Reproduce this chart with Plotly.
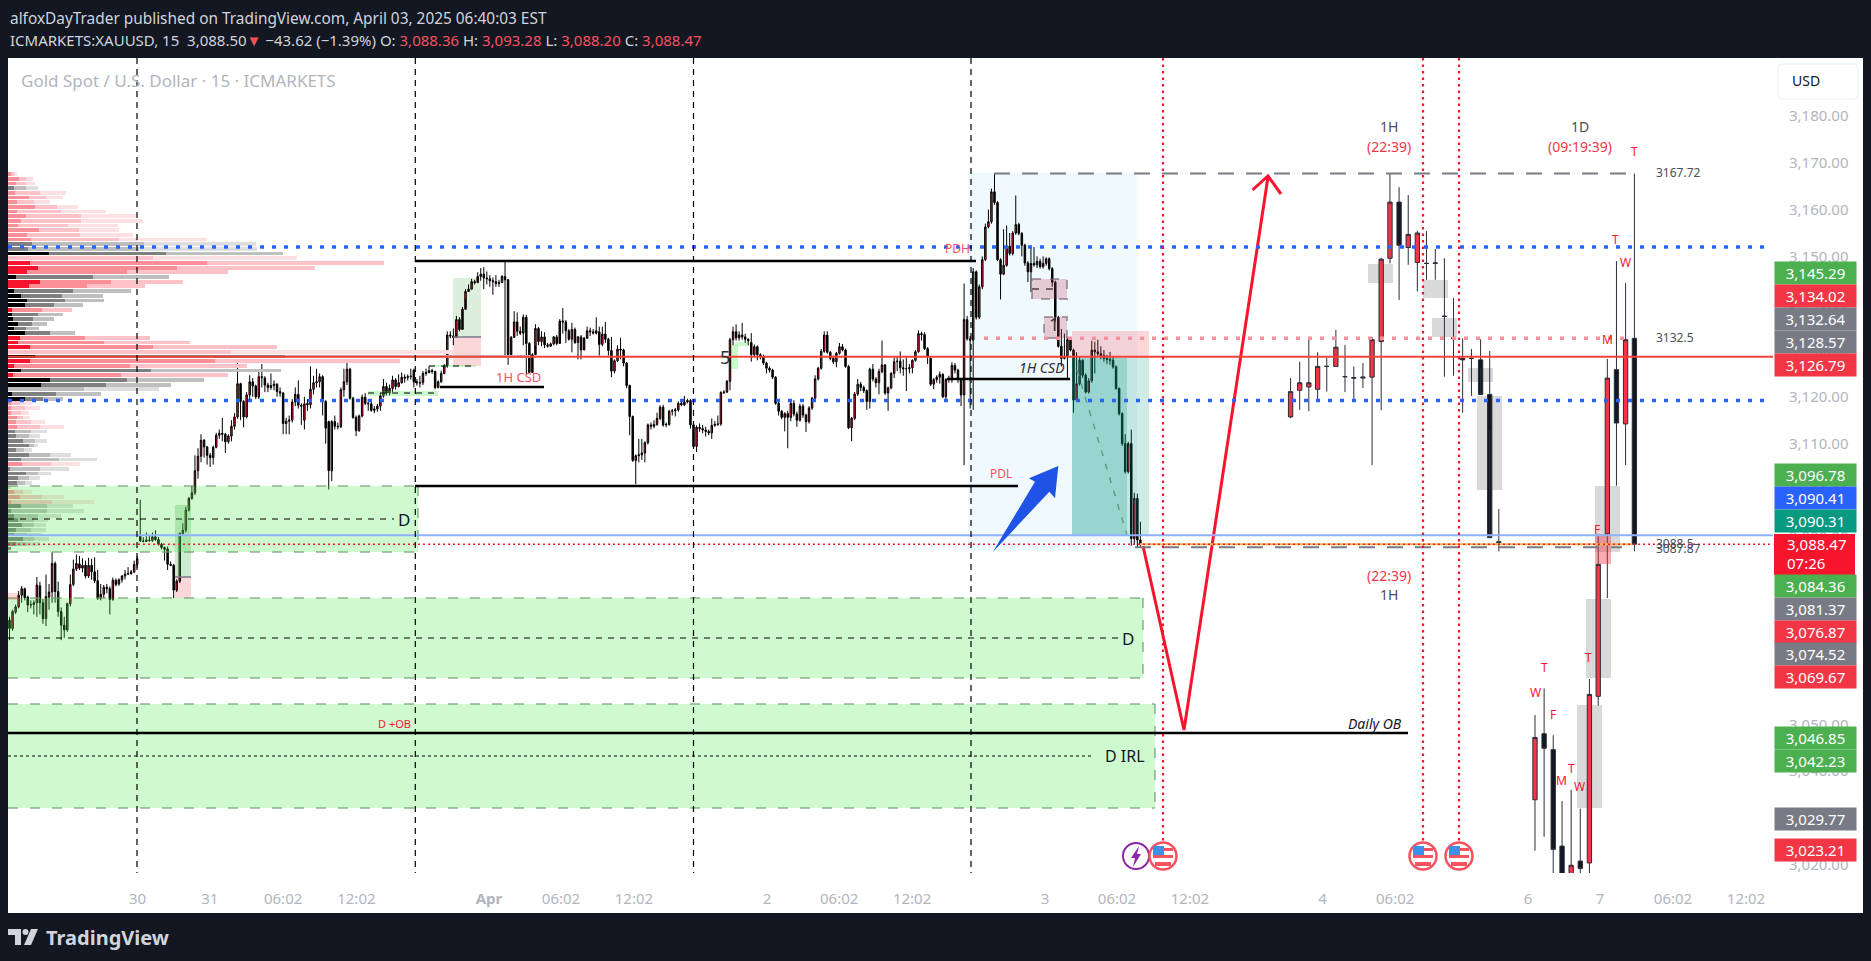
import plotly.graph_objects as go

# ---------- 15-minute candles ----------
opens = [
3072.3,3070.5,3074.0,3075.1,3077.6,3079.0,3077.2,3075.5,3075.6,3076.0,
3079.6,3076.0,3072.6,3077.2,3078.3,3084.4,3078.4,3074.1,3071.2,3070.2,
3075.8,3079.9,3083.2,3084.3,3083.4,3084.0,3081.7,3084.0,3082.6,3080.7,
3076.9,3077.8,3079.3,3079.0,3076.7,3080.8,3080.0,3080.9,3081.7,3082.1,
3082.2,3082.6,3084.2,3090.4,3089.2,3089.1,3089.4,3089.3,3090.1,3089.5,
3088.5,3087.8,3087.5,3084.2,3084.0,3078.7,3080.6,3090.8,3091.5,3095.8,
3098.3,3099.5,3104.2,3107.3,3110.7,3109.3,3107.5,3107.0,3109.2,3111.8,
3112.2,3112.0,3110.4,3111.6,3113.7,3115.7,3122.8,3119.0,3115.7,3120.4,
3123.2,3122.3,3120.0,3124.3,3124.0,3122.5,3122.0,3122.4,3122.7,3121.1,
3120.8,3114.3,3114.8,3115.0,3118.9,3120.5,3118.2,
# segment b
3115.0,3118.6,3118.3,3121.6,3123.0,3123.2,3124.3,3119.0,3114.7,3104.2,
3114.7,3113.7,3113.6,3121.5,3123.2,3125.9,3119.7,3115.6,3112.8,3115.9,
3119.9,3118.6,3118.5,3117.1,3117.4,3118.0,3120.2,3122.2,3120.8,3121.8,
3123.6,3122.2,3123.0,3124.2,3124.1,3124.3,3125.7,3123.2,3123.0,3123.0,
3125.0,3125.2,3125.6,3125.4,3122.0,3123.2,3125.0,3126.6,3133.2,3133.0,
3132.7,3136.5,3134.4,3138.7,3142.5,3143.0,3144.6,3144.4,3145.7,3146.2,
3145.4,3145.2,3144.8,3144.6,3144.2,3144.4,3145.7,3145.0,3129.0,3132.7,
3136.0,3134.0,3133.6,3137.0,3131.4,3125.2,3129.0,3134.6,3131.8,3132.8,
3131.1,3130.8,3131.3,3132.8,3131.4,3136.2,3136.0,3134.1,3132.3,3134.4,
3131.6,3132.8,3130.0,3132.5,3134.1,3133.9,3133.6,
# segment c
3133.9,3131.2,3133.4,3132.3,3129.9,3125.5,3127.7,3130.2,3130.0,3127.2,
3122.4,3115.8,3106.4,3107.4,3107.6,3108.0,3110.2,3114.0,3113.7,3114.1,
3115.4,3117.8,3114.0,3114.1,3116.9,3117.0,3117.2,3118.6,3118.3,3118.9,
3119.2,3114.0,3109.4,3113.5,3113.2,3112.9,3112.6,3112.3,3113.9,3114.1,
3114.2,3120.9,3121.0,3123.3,3132.2,3133.9,3132.6,3133.2,3132.8,3132.3,
3131.6,3129.0,3130.7,3129.0,3128.6,3127.2,3126.1,3125.7,3124.2,3118.6,
3116.9,3115.6,3116.4,3115.6,3118.6,3116.3,3115.0,3118.0,3116.1,3114.7,
3117.6,3119.7,3123.8,3126.1,3129.7,3133.2,3129.5,3128.2,3127.5,3129.3,
3130.7,3130.0,3126.5,3113.4,3115.4,3120.6,3122.7,3122.0,3121.3,3119.0,
3125.9,3123.8,3123.0,3125.4,3126.8,3120.8,3121.9,
# segment d
3125.0,3127.5,3127.6,3126.2,3126.0,3126.0,3126.2,3127.8,3129.6,3133.5,
3133.3,3130.3,3128.2,3122.7,3123.7,3124.2,3124.8,3120.0,3123.7,3123.9,
3126.7,3125.7,3123.7,3120.4,3136.5,3132.4,3132.1,3146.7,3137.0,3143.5,
3149.3,3156.3,3157.4,3163.8,3161.5,3149.3,3146.2,3148.1,3152.2,3150.6,
3155.0,3156.8,3154.9,3152.4,3148.6,3146.7,3148.5,3148.2,3148.9,3147.8,
3148.5,3149.5,3147.4,3144.5,3137.0,3130.8,3128.2,3128.5,3132.2,3130.0,
3119.3,3122.8,3127.8,3124.6,3121.0,3123.4,3130.0,3129.6,3129.2,3128.8,
3128.2,3128.0,3127.8,3126.4,3121.8,3116.4,3110.0,3104.0,3110.0,3089.7,
3098.3,3089.4]
closes = [
3070.5,3074.1,3075.1,3077.6,3079.0,3077.1,3075.5,3075.6,3076.0,3079.8,
3076.0,3072.6,3077.3,3078.3,3084.4,3078.4,3074.1,3071.2,3070.2,3075.8,
3079.9,3083.2,3084.4,3083.4,3084.0,3081.7,3084.0,3082.6,3080.7,3076.9,
3077.8,3079.3,3079.0,3076.7,3080.8,3079.9,3080.9,3081.7,3082.1,3082.2,
3082.6,3084.2,3085.4,3089.2,3089.1,3089.4,3089.3,3090.1,3089.5,3088.5,
3087.8,3087.4,3084.2,3084.0,3078.7,3080.6,3090.8,3091.5,3095.8,3098.3,
3099.5,3104.2,3107.3,3110.7,3109.3,3107.5,3107.0,3109.2,3111.8,3112.2,
3112.0,3110.4,3111.6,3113.7,3115.7,3122.8,3119.0,3115.7,3120.4,3123.2,
3122.3,3120.0,3124.3,3124.1,3122.5,3122.0,3122.4,3122.7,3121.1,3120.8,
3114.3,3114.8,3115.0,3118.9,3120.5,3118.2,3118.0,
# segment b
3118.5,3118.3,3121.6,3123.0,3123.2,3124.3,3119.0,3113.3,3104.2,3114.7,
3113.7,3113.6,3121.5,3123.2,3125.9,3119.7,3115.6,3112.8,3115.9,3119.9,
3118.6,3118.5,3117.1,3117.4,3118.0,3120.2,3122.2,3120.8,3121.8,3123.6,
3122.2,3123.0,3124.2,3124.0,3124.3,3124.4,3123.2,3123.0,3123.0,3125.0,
3125.2,3125.6,3125.4,3122.0,3123.2,3125.0,3126.6,3133.2,3133.0,3132.7,
3136.5,3134.4,3138.7,3142.5,3143.0,3144.6,3144.4,3145.7,3146.2,3145.4,
3145.2,3144.8,3144.6,3144.2,3144.4,3145.7,3145.0,3129.0,3132.7,3136.0,
3134.0,3133.6,3137.0,3131.4,3125.2,3129.0,3134.6,3131.8,3132.8,3131.1,
3130.8,3131.3,3132.8,3131.4,3136.2,3136.0,3134.1,3132.3,3134.4,3131.6,
3132.8,3130.0,3132.5,3134.1,3133.9,3133.6,3134.1,
# segment c
3131.2,3133.4,3132.3,3129.9,3125.5,3127.7,3130.2,3130.0,3127.2,3122.4,
3115.8,3106.4,3107.4,3107.6,3108.0,3110.2,3114.0,3113.7,3114.1,3115.4,
3117.8,3114.0,3114.1,3116.9,3117.0,3117.2,3118.6,3118.3,3118.9,3119.2,
3114.0,3109.4,3113.5,3113.2,3112.9,3112.6,3112.3,3113.9,3114.1,3114.2,
3120.9,3121.0,3123.3,3132.2,3133.9,3132.6,3133.2,3132.8,3132.3,3132.0,
3129.0,3130.7,3129.0,3128.6,3127.2,3126.1,3125.7,3124.2,3118.6,3116.9,
3115.6,3116.4,3115.6,3118.6,3116.3,3115.0,3118.0,3116.1,3114.7,3117.6,
3119.7,3123.8,3126.1,3129.7,3133.2,3129.5,3128.2,3127.5,3129.3,3130.7,
3130.0,3126.5,3113.4,3115.4,3120.6,3122.7,3122.0,3121.3,3119.0,3125.9,
3123.8,3123.0,3125.4,3126.8,3120.8,3121.9,3125.0,
# segment d
3127.5,3127.6,3126.2,3126.0,3126.0,3126.2,3127.8,3129.6,3133.5,3133.3,
3130.3,3128.5,3122.7,3123.7,3124.2,3124.8,3120.0,3123.7,3123.9,3126.7,
3125.7,3123.7,3120.4,3136.5,3132.4,3132.1,3146.7,3137.0,3143.5,3149.3,
3156.3,3157.4,3163.8,3161.5,3149.3,3146.2,3148.1,3152.2,3150.6,3155.0,
3156.8,3154.9,3152.4,3148.6,3146.7,3148.5,3148.2,3148.9,3147.8,3148.5,
3149.5,3147.4,3144.5,3137.0,3130.8,3128.2,3128.5,3132.2,3130.0,3119.3,
3122.8,3127.8,3124.6,3121.0,3123.4,3130.0,3129.6,3129.2,3128.8,3128.2,
3128.0,3127.8,3126.4,3121.8,3116.4,3110.0,3104.0,3110.0,3089.7,3098.3,
3089.4,3088.4]
highs = [
3073.0,3074.5,3075.6,3078.5,3079.6,3079.2,3077.5,3076.5,3076.5,3081.5,
3080.5,3076.8,3082.0,3080.0,3086.8,3084.8,3080.5,3075.0,3073.0,3076.0,
3082.0,3085.2,3086.3,3086.0,3085.5,3085.0,3085.6,3085.4,3085.7,3083.0,
3080.0,3079.8,3080.0,3079.5,3081.4,3081.2,3081.2,3081.9,3083.0,3083.6,
3083.0,3085.0,3086.0,3098.0,3090.0,3091.0,3090.5,3091.0,3091.5,3090.0,
3088.8,3088.0,3088.0,3084.8,3084.3,3081.0,3091.0,3093.0,3096.5,3098.6,
3101.0,3107.5,3109.0,3112.0,3111.0,3109.5,3108.0,3109.6,3112.3,3113.0,
3115.5,3112.3,3112.0,3115.0,3116.5,3128.0,3123.0,3119.3,3121.0,3124.6,
3124.0,3122.6,3125.5,3127.0,3124.4,3123.0,3125.0,3123.5,3122.9,3122.0,
3121.0,3115.5,3116.0,3119.5,3122.0,3123.5,3118.6,
# segment b
3120.0,3119.5,3126.5,3124.5,3126.0,3125.0,3124.6,3119.3,3114.9,3115.0,
3116.0,3114.5,3122.0,3126.0,3128.0,3126.2,3120.0,3116.0,3116.2,3120.5,
3120.8,3119.5,3119.5,3118.0,3118.5,3120.8,3123.8,3123.0,3122.6,3124.5,
3124.0,3124.8,3125.2,3124.8,3124.8,3126.0,3126.0,3123.8,3124.5,3125.5,
3126.0,3126.6,3126.0,3125.6,3123.5,3125.6,3127.0,3134.0,3134.0,3134.6,
3137.3,3137.0,3139.2,3143.0,3144.0,3145.2,3145.0,3146.6,3147.5,3147.7,
3146.8,3146.0,3145.5,3146.0,3145.0,3146.0,3149.0,3145.2,3133.0,3138.3,
3138.0,3135.0,3137.6,3137.5,3131.7,3129.3,3135.5,3134.9,3134.0,3133.8,
3131.5,3131.6,3133.0,3133.2,3136.6,3139.0,3136.4,3134.5,3135.8,3134.8,
3133.0,3133.2,3132.8,3135.0,3134.8,3134.5,3137.0,
# segment c
3135.0,3135.0,3136.0,3132.6,3132.8,3128.0,3131.0,3132.6,3130.3,3127.4,
3122.6,3116.0,3107.7,3111.0,3111.0,3110.5,3114.3,3114.5,3115.0,3116.6,
3118.2,3118.3,3114.5,3117.2,3117.4,3117.6,3119.0,3119.3,3120.2,3119.6,
3119.5,3114.2,3113.9,3114.3,3114.0,3113.6,3113.0,3115.4,3114.8,3116.0,
3121.2,3121.4,3123.6,3132.6,3135.0,3135.5,3134.0,3135.8,3133.5,3132.5,
3133.6,3131.2,3131.0,3129.3,3129.0,3127.5,3126.5,3126.0,3124.4,3119.0,
3117.2,3116.7,3117.0,3119.0,3119.3,3116.8,3118.5,3118.5,3116.4,3118.0,
3120.0,3124.6,3126.4,3130.2,3134.0,3134.0,3129.8,3128.8,3129.6,3131.5,
3131.3,3130.3,3126.8,3115.7,3121.0,3123.8,3123.2,3122.4,3121.6,3126.2,
3127.0,3124.2,3126.0,3132.0,3127.0,3122.2,3125.3,
# segment d
3128.4,3128.5,3129.7,3128.0,3128.4,3127.0,3128.0,3130.0,3134.2,3133.9,
3133.8,3130.6,3128.5,3124.0,3124.6,3125.4,3125.0,3124.0,3124.5,3127.4,
3127.2,3126.0,3124.0,3144.2,3137.3,3133.0,3147.5,3147.0,3144.0,3150.0,
3157.0,3160.0,3164.5,3167.7,3161.8,3149.6,3155.8,3156.6,3155.0,3155.4,
3163.0,3157.2,3155.2,3152.7,3149.0,3152.0,3152.0,3150.0,3149.5,3150.0,
3149.8,3149.8,3147.7,3144.8,3137.3,3134.5,3133.5,3132.6,3132.5,3130.3,
3129.5,3128.5,3128.0,3125.0,3124.0,3132.0,3131.8,3132.2,3130.8,3130.0,
3129.0,3129.6,3128.5,3126.7,3122.0,3116.7,3112.0,3110.4,3113.0,3099.5,
3099.3,3093.3]
lows = [
3068.0,3070.0,3073.6,3074.8,3076.0,3076.5,3074.0,3074.8,3073.5,3073.0,
3073.5,3071.5,3071.0,3074.5,3076.0,3076.0,3073.0,3068.0,3068.5,3069.8,
3075.2,3079.5,3082.8,3083.0,3082.5,3081.2,3081.3,3080.9,3080.2,3076.6,
3076.5,3077.0,3078.0,3073.5,3076.4,3079.5,3079.6,3080.3,3081.0,3082.0,
3082.0,3082.3,3083.5,3089.0,3088.9,3089.0,3089.0,3089.0,3089.2,3088.2,
3087.4,3085.0,3083.0,3083.8,3077.0,3078.3,3080.2,3090.5,3091.0,3095.5,
3098.0,3099.0,3102.5,3106.0,3107.0,3105.5,3105.0,3105.5,3109.0,3111.0,
3110.5,3108.0,3110.0,3110.5,3113.0,3115.3,3115.0,3113.5,3115.4,3119.0,
3120.0,3119.5,3119.5,3122.0,3121.0,3121.0,3121.5,3121.4,3120.0,3120.0,
3112.0,3112.0,3112.0,3114.5,3118.0,3117.5,3114.0,
# segment b
3113.0,3117.0,3117.5,3120.5,3122.0,3122.0,3116.0,3110.0,3100.2,3102.0,
3113.0,3113.0,3113.3,3120.0,3122.5,3119.4,3115.3,3111.6,3112.5,3115.6,
3118.2,3117.0,3116.8,3116.5,3116.8,3117.0,3119.8,3120.3,3120.3,3121.0,
3121.5,3122.0,3122.8,3123.0,3123.5,3123.7,3122.0,3122.4,3122.0,3122.5,
3124.5,3125.0,3124.9,3121.6,3121.8,3123.0,3124.8,3126.2,3132.5,3131.0,
3133.5,3134.0,3138.2,3141.0,3142.5,3143.0,3144.0,3145.2,3144.8,3143.0,
3144.0,3143.5,3141.8,3143.5,3143.5,3144.5,3128.5,3126.8,3132.3,3133.6,
3133.0,3133.2,3131.0,3124.8,3125.0,3128.7,3131.0,3131.0,3130.8,3130.4,
3130.5,3130.7,3131.0,3131.0,3135.7,3133.5,3131.5,3132.0,3129.5,3131.3,
3128.0,3128.0,3132.2,3133.2,3133.0,3133.3,3133.3,
# segment c
3128.8,3130.8,3131.5,3128.8,3124.2,3125.0,3127.4,3128.0,3126.5,3121.8,
3111.8,3106.1,3101.3,3106.0,3106.5,3106.0,3109.8,3113.0,3113.3,3113.8,
3115.0,3113.6,3113.5,3113.8,3116.0,3115.8,3116.8,3118.0,3118.0,3118.6,
3113.2,3109.0,3108.2,3112.5,3112.2,3111.5,3111.8,3111.0,3113.6,3113.8,
3113.8,3120.6,3120.8,3121.4,3131.0,3132.0,3132.0,3132.2,3131.5,3131.0,
3127.5,3128.6,3127.8,3128.0,3126.8,3125.0,3125.2,3123.8,3118.3,3116.0,
3115.2,3112.6,3109.0,3114.8,3115.8,3113.6,3114.7,3115.5,3112.5,3114.3,
3117.2,3119.4,3123.5,3125.8,3129.4,3129.2,3127.8,3127.0,3126.3,3129.0,
3129.7,3126.2,3113.1,3110.5,3115.0,3120.2,3121.2,3120.8,3117.2,3117.5,
3123.3,3122.0,3120.5,3125.0,3120.4,3117.0,3121.6,
# segment d
3124.0,3125.5,3125.0,3124.5,3121.2,3125.0,3125.0,3127.5,3129.4,3132.0,
3130.0,3127.0,3122.3,3121.6,3123.0,3122.8,3119.7,3119.5,3123.0,3123.0,
3125.0,3123.0,3118.0,3105.4,3132.0,3117.5,3117.2,3136.5,3136.6,3143.0,
3149.0,3156.0,3157.0,3161.0,3149.0,3140.8,3146.0,3147.8,3150.2,3150.2,
3154.6,3154.5,3150.0,3148.0,3144.5,3142.4,3147.8,3147.5,3147.4,3147.4,
3148.0,3147.0,3143.5,3136.0,3130.5,3126.5,3128.0,3123.9,3129.7,3116.6,
3119.0,3122.4,3124.0,3120.7,3120.7,3123.0,3125.0,3128.5,3128.0,3127.5,
3127.0,3126.8,3126.0,3121.5,3116.0,3109.5,3103.6,3103.6,3088.2,3088.5,
3087.9,3087.9]

# ---------- higher-timeframe candles on the right ----------
htf_x = [421.9,424.9,427.9,430.8,433.8,436.8,439.8,442.7,445.7,448.7,451.7,454.6,457.6,460.6,463.6,466.6,
         469.5,472.5,475.5,478.5,481.4,484.4,487.4,490.4,
         502.3,505.3,508.3,511.2,514.2,517.2,520.2,523.1,526.1,529.1,532.1,535.0]
htf_open = [3115.7,3121.4,3122.1,3121.6,3126.5,3126.5,3124.3,3124.1,3124.0,3124.2,3131.8,3149.6,
            3161.6,3151.9,3148.7,3148.5,3148.5,3137.2,3132.6,3128.2,3128.2,3127.9,3120.5,3088.8,
            3033.9,3048.0,3044.6,3024.0,3016.0,3020.8,3020.4,3056.0,3090.7,3125.8,3114.2,3132.5]
htf_close = [3121.1,3123.0,3123.0,3126.5,3126.5,3130.6,3124.3,3124.0,3124.2,3132.2,3149.4,3161.6,
             3152.4,3154.7,3155.0,3148.5,3148.6,3137.2,3132.5,3127.9,3128.2,3120.5,3089.9,3089.0,
             3047.2,3044.9,3023.3,3018.0,3019.9,3019.2,3056.4,3084.2,3124.0,3114.4,3132.2,3088.5]
htf_high = [3124.0,3127.5,3132.2,3129.5,3128.3,3134.3,3131.1,3126.5,3127.2,3132.8,3149.7,3167.7,
            3164.8,3163.1,3155.5,3155.4,3151.6,3149.6,3141.1,3132.5,3130.2,3132.3,3129.8,3096.0,
            3052.0,3057.7,3047.7,3033.6,3036.0,3032.0,3059.7,3090.7,3128.1,3149.0,3144.3,3167.7]
htf_low = [3115.4,3117.2,3116.9,3119.3,3121.1,3126.5,3121.0,3119.3,3121.9,3105.4,3117.1,3148.5,
           3140.7,3148.2,3142.5,3145.0,3145.0,3124.3,3124.5,3116.6,3120.2,3126.2,3113.0,3087.0,
           3023.0,3026.0,3015.0,3014.0,3014.0,3015.0,3015.0,3054.0,3077.0,3101.0,3105.4,3087.0]

# ---------- volume profile (cumulative extents per $1 row, top to bottom) ----------
vp_first_price = 3167.6
vp_kind = list("rrrgrrrrrrrrrrrggGrRRRGRRGGGGRGG"
               "GGGRRRrGRRGRGGgGGrrrrrrgggggggrgggggrrrgggggggggg")
vp_dark = [7,27,19,14,17,51,22,66,22,44,31,24,76,46,56,58,50,100,1,53,73,46,19,78,51,14,31,46,41,9,9,12,
           24,14,41,29,24,53,1,66,53,14,31,12,102,80,1,9,41,7,7,7,22,20,22,
           17,19,36,51,19,51,31,34,4,44,24,22,2,14,29,7,31,7,14,24,34,19,14,36,19,7]
vp_mid = [14,45,44,44,78,93,63,120,129,178,180,147,174,176,272,333,320,387,355,487,414,291,208,252,193,159,132,139,112,83,73,61,
          60,44,102,188,235,355,546,678,507,298,350,276,291,240,186,117,85,30,41,31,36,56,78,56,51,66,63,39,102,125,
          105,78,73,51,41,4,37,83,108,95,95,73,63,63,56,46,63,46,7]
vp_light = [23,61,66,73,142,134,102,171,240,313,330,269,272,306,487,607,610,673,708,921,752,539,394,428,335,301,232,235,183,156,134,112,
            95,76,164,347,445,659,1090,1280,960,585,668,539,480,399,370,227,134,60,78,51,54,90,137,95,78,95,73,58,154,218,
            176,149,105,78,58,6,58,137,210,159,186,129,98,93,93,83,100,78,7]

# ---------- levels and axis text ----------
price_ticks = [3180,3170,3160,3150,3140,3130,3120,3110,3100,3090,3080,3070,3060,3050,3040,3030,3020]
time_tick_x = [42.6,66.4,90.5,114.6,158.2,181.9,205.9,249.7,273.4,297.4,341.1,364.8,388.8,432.4,456.3,500,523.7,547.7,571.7]
time_tick_text = ["30","31","06:02","12:02","<b>Apr</b>","06:02","12:02","2","06:02","12:02","3","06:02","12:02","4","06:02","6","7","06:02","12:02"]

tag_text = ["3,145.29","3,134.02","3,132.64","3,128.57","3,126.79","3,096.78","3,090.41","3,090.31","3,084.36","3,081.37",
            "3,076.87","3,074.52","3,069.67","3,046.85","3,042.23","3,029.77","3,023.21"]
tag_y = [273,296,319,342,365,475,498,521,586,609,632,654,677,738,761,819,850]
GREEN="#4caf50"; RED="#f23645"; GREY="#787b86"
tag_color = [GREEN,RED,GREY,GREY,RED,GREEN,"#2962ff","#089981",GREEN,GREY,RED,GREY,RED,GREEN,GREEN,GREY,RED]

# ---------- frame geometry ----------
W,H = 1871,961
L,R,T,B = 8,1773,58,873
PX_PER_BAR = 3.04
PX_PER_USD = 4.68
def bx(px): return (px-L)/PX_PER_BAR
def py(p): return 3180-(p-116)/PX_PER_USD
def X(px): return (px-L)/(R-L)
def Y(p): return (B-p)/(B-T)
FONT="Noto Sans"

fig = go.Figure()
fig.add_trace(go.Candlestick(x=[i+0.5 for i in range(len(closes))],open=opens,high=highs,low=lows,close=closes,
    increasing=dict(fillcolor="#f7152d",line=dict(color="#000000",width=1)),
    decreasing=dict(fillcolor="#000000",line=dict(color="#000000",width=1)),
    whiskerwidth=0,hoverinfo="skip",showlegend=False))

pal = {"R":("#f7152d","#fb8f97","#fdc2c8"),"G":("#000000","#808080","#bfbfbf"),
       "r":("#fb8f97","#fdc2c8","#fde0e4"),"g":("#808080","#bdbdbd","#dedede")}
vp_y = [vp_first_price-i for i in range(len(vp_dark))]
seg1 = vp_dark
seg2 = [m-d for m,d in zip(vp_mid,vp_dark)]
seg3 = [l-m for l,m in zip(vp_light,vp_mid)]
for k,seg in enumerate([seg1,seg2,seg3]):
    fig.add_trace(go.Bar(x=seg,y=vp_y,orientation="h",xaxis="x2",yaxis="y",width=0.8,
        marker=dict(color=[pal[c][k] for c in vp_kind],line_width=0),hoverinfo="skip",showlegend=False))

fig.add_trace(go.Candlestick(x=htf_x,open=htf_open,high=htf_high,low=htf_low,close=htf_close,xaxis="x3",yaxis="y",
    increasing=dict(fillcolor="#f23645",line=dict(color="#2a2e39",width=1)),
    decreasing=dict(fillcolor="#131722",line=dict(color="#2a2e39",width=1)),
    whiskerwidth=0,hoverinfo="skip",showlegend=False))

# projected path + arrow head
proj_x=[bx(1143),bx(1184),bx(1268)]; proj_y=[py(546),py(730),py(177)]
fig.add_trace(go.Scatter(x=proj_x,y=proj_y,mode="lines",line=dict(color="#f7152d",width=3),hoverinfo="skip",showlegend=False))
fig.add_trace(go.Scatter(x=[bx(1252.5),bx(1268),bx(1281)],y=[py(190),py(176),py(194)],mode="lines",line=dict(color="#f7152d",width=3),hoverinfo="skip",showlegend=False))
fig.add_trace(go.Scatter(x=[bx(1077),bx(1127)],y=[py(370),py(535)],mode="lines",line=dict(color="#9a9a9a",width=1.5,dash="6px,8px"),hoverinfo="skip",showlegend=False))

shapes=[]
def rect(x0,x1,y0,y1,fill,layer="below",line=None,dash=None,lw=0):
    shapes.append(dict(type="rect",xref="x",yref="y",x0=bx(x0),x1=bx(x1),y0=py(y0),y1=py(y1),fillcolor=fill,layer=layer,
                       line=dict(color=line or "rgba(0,0,0,0)",width=lw,dash=dash or "solid")))
def hl(price,x0,x1,color,width,dash="solid",layer="above"):
    shapes.append(dict(type="line",xref="x",yref="y",x0=bx(x0),x1=bx(x1),y0=price,y1=price,layer=layer,line=dict(color=color,width=width,dash=dash)))
def vl(px,y0,y1,color,width,dash):
    shapes.append(dict(type="line",xref="x",yref="y",x0=bx(px),x1=bx(px),y0=py(y0),y1=py(y1),layer="above",line=dict(color=color,width=width,dash=dash)))

# frame (white chart sheet)
shapes.append(dict(type="rect",xref="paper",yref="paper",x0=0,x1=X(1863),y0=Y(913),y1=1,fillcolor="#ffffff",line_width=0,layer="below"))

# position tool background + grey htf gaps
rect(968,1137,172.7,551,"#f0f9fd")
for a,b,c,d in [(1368,1393,264,283),(1423,1448,280,298),(1432,1457,318,337),(1468,1493,368,382),(1477,1502,396,490),
                (1595,1620,486,552),(1586,1611,599,678),(1577,1602,705,808)]:
    rect(a,b,c,d,"#d9d9d9")
rect(1595,1611,534,564,"rgba(242,54,69,0.42)","above")

# demand boxes
GB="rgba(63,235,67,0.25)"; GE="rgba(110,160,110,0.6)"
def dbox(x1,top,bot):
    rect(8,x1,top,bot,GB,"above")
    shapes.append(dict(type="line",xref="x",yref="y",x0=bx(8),x1=bx(x1),y0=py(top),y1=py(top),layer="above",line=dict(color=GE,width=2,dash="10px,12px")))
    shapes.append(dict(type="line",xref="x",yref="y",x0=bx(8),x1=bx(x1),y0=py(bot),y1=py(bot),layer="above",line=dict(color=GE,width=2,dash="10px,12px")))
    shapes.append(dict(type="line",xref="x",yref="y",x0=bx(x1),x1=bx(x1),y0=py(top),y1=py(bot),layer="above",line=dict(color=GE,width=2,dash="10px,12px")))
dbox(418,486,552); dbox(1143,598,678); dbox(1155,704,808)
hl(py(519),8,394,"#000000",1.2,"6px,6px")
hl(py(638),8,1120,"#000000",1.2,"6px,6px")
hl(py(756),8,1092,"#000000",1.2,"3px,3px")
hl(py(733),8,1408,"#000000",2.5)

# small position boxes
rect(453,481,278,337,"rgba(76,175,80,0.2)"); rect(453,481,337,366,"rgba(242,54,69,0.2)")
hl(py(337),453,481,"#787b86",1.5)
rect(175,191,505,577,"rgba(76,175,80,0.28)","above"); rect(175,191,577,598,"rgba(242,54,69,0.2)")
hl(py(577),175,191,"#787b86",1.5)
rect(731,738,345,369,"rgba(63,235,67,0.28)","above")
rect(735,748,342,346,"rgba(63,235,67,0.28)","above")
rect(368,438,391,396,"rgba(63,235,67,0.28)","above")
hl(py(393),368,438,"#000000",1.2,"6px,6px")
rect(429,476,365,367,"rgba(63,235,67,0.28)","above")
hl(py(366),429,476,"#000000",1.2,"6px,6px")
rect(8,18,593,600,"rgba(242,54,69,0.2)","above")

# short position tool
rect(1072,1149,331,358,"rgba(242,54,69,0.2)","above")
rect(1072,1149,358,535,"rgba(8,153,129,0.2)","above")
rect(1072,1127,358,535,"rgba(8,153,129,0.22)","above")

# pink gaps
rect(1032,1067,279,299,"rgba(190,60,90,0.24)","above","rgba(120,100,110,0.6)","dash",2)
rect(1044,1067,317,338,"rgba(190,60,90,0.24)","above","rgba(120,100,110,0.6)","dash",2)
hl(py(289),1032,1060,"#000000",1.2,"7px,7px")

# horizontal levels
hl(3152,8,1765,"#2962ff",3.5,"4px,8px")
hl(3119.2,8,1765,"#2962ff",3.5,"4px,8px")
hl(3132.5,984,1632,"#f7909a",3.5,"4px,8px")
hl(3128.57,8,1773,"#f44336",2)
hl(3090.41,8,1773,"#8fb0fb",2)
hl(3088.5,1140,1632,"#ffb74d",2)
hl(3088.47,8,1773,"#f7152d",1.5,"2px,3px")
hl(3087.87,1135,1622,"#787b86",2,"16px,12px")
hl(3167.72,994,1634,"#787b86",2,"16px,12px")
hl(py(261),415,976,"#000000",2.5)
hl(py(486),415,1018,"#000000",2.5)
hl(py(387),440,544,"#000000",2.5)
hl(py(379),947,1070,"#000000",2.5)

# vertical session and event lines
for v in [137,415.3,693.5,971]:
    vl(v,58,873,"#000000",1.2,"6px,5px")
for v in [1163,1423,1459]:
    vl(v,58,842,"#f7152d",2.2,"2.5px,4px")

# blue arrow
pts=[(308,1147),(435,935),(417,925),(505,888),(495,985),(478,965)]
path="M"+" L".join(f"{X(890+a/3):.5f},{Y(170+b/3):.5f}" for a,b in pts)+" Z"
shapes.append(dict(type="path",xref="paper",yref="paper",path=path,fillcolor="#1e53e5",line_width=0,layer="above"))

# event icons
def circ(cx,cy,r,fill,line,lw):
    shapes.append(dict(type="circle",xref="paper",yref="paper",x0=X(cx-r),x1=X(cx+r),y0=Y(cy+r),y1=Y(cy-r),fillcolor=fill,line=dict(color=line,width=lw),layer="above"))
def prect(a,b,c,d,fill):
    shapes.append(dict(type="rect",xref="paper",yref="paper",x0=X(a),x1=X(b),y0=Y(d),y1=Y(c),fillcolor=fill,line_width=0,layer="above"))
circ(1136,856,13,"#ffffff","#8e24aa",2)
bolt=[(1139,846),(1131,858),(1135,858),(1133,867),(1141,854),(1137,854)]
shapes.append(dict(type="path",xref="paper",yref="paper",fillcolor="#8e24aa",line_width=0,layer="above",
    path="M"+" L".join(f"{X(a):.5f},{Y(b):.5f}" for a,b in bolt)+" Z"))
for cx in [1163,1423,1459]:
    circ(cx,856,13.5,"#ffffff","#f7525f",2.5)
    prect(cx-10,cx+1,846,858,"#3d8fe8")
    prect(cx+1,cx+10,848,851,"#f7525f")
    prect(cx-10,cx+10,855,858,"#f7525f")
    prect(cx-8,cx+8,862,866,"#f7525f")

# USD button (rounded)
ux0,ux1,uy0,uy1,ur = 1778,1858,64,99,5
upath=(f"M{X(ux0+ur):.5f},{Y(uy0):.5f} L{X(ux1-ur):.5f},{Y(uy0):.5f} Q{X(ux1):.5f},{Y(uy0):.5f} {X(ux1):.5f},{Y(uy0+ur):.5f} "
       f"L{X(ux1):.5f},{Y(uy1-ur):.5f} Q{X(ux1):.5f},{Y(uy1):.5f} {X(ux1-ur):.5f},{Y(uy1):.5f} L{X(ux0+ur):.5f},{Y(uy1):.5f} "
       f"Q{X(ux0):.5f},{Y(uy1):.5f} {X(ux0):.5f},{Y(uy1-ur):.5f} L{X(ux0):.5f},{Y(uy0+ur):.5f} Q{X(ux0):.5f},{Y(uy0):.5f} {X(ux0+ur):.5f},{Y(uy0):.5f} Z")
shapes.append(dict(type="path",xref="paper",yref="paper",path=upath,fillcolor="#ffffff",line=dict(color="#f0f3fa",width=1.5),layer="above"))

# TradingView logo
prect(8,21,929,935,"#d1d4dc"); prect(15,21,935,945,"#d1d4dc")
circ(25.5,932,3,"#d1d4dc","#d1d4dc",0)
logo=[(31,929),(38,929),(31,945),(24,945)]
shapes.append(dict(type="path",xref="paper",yref="paper",fillcolor="#d1d4dc",line_width=0,layer="above",
    path="M"+" L".join(f"{X(a):.5f},{Y(b):.5f}" for a,b in logo)+" Z"))

# last price tag panel
prect(1774,1855,534,575,"#f7152d")

ann=[]
def txt(px,pyy,s,size=13,color="#131722",anchor="center",**kw):
    ann.append(dict(x=X(px),y=Y(pyy),xref="paper",yref="paper",text=s,showarrow=False,xanchor=anchor,yanchor="middle",
                    font=dict(family=kw.pop("family",FONT),size=size,color=color),**kw))
# header
txt(8,18,"alfoxDayTrader published on TradingView.com, April 03, 2025 06:40:03 EST",15.4,"#d1d4dc","left")
G='<span style="color:#f7525f">%s</span>'
txt(8,40,"ICMARKETS:XAUUSD, 15  3,088.50"+'<span style="color:#ef5350">▼</span>'+" −43.62 (−1.39%) O: "+G%"3,088.36"+" H: "+G%"3,093.28"+" L: "+G%"3,088.20"+" C: "+G%"3,088.47",15,"#d1d4dc","left")
txt(19,81,"Gold Spot / U.S. Dollar · 15 · ICMARKETS",17,"#b2b5be","left")
txt(44,937,"<b>TradingView</b>",20,"#d1d4dc","left")
txt(1790,81,"USD",14,"#131722","left")
# chart labels
txt(404,519,"D",17,"#131722"); txt(1128,638,"D",17,"#131722"); txt(1125,756,"D IRL",16,"#131722")
txt(394,723,"D +OB",11,"#f7152d")
txt(725,357,"5",18,"#2a2e39"); txt(1054,324,"1",18,"#2a2e39")
txt(518,377,"1H CSD",13,"#f7525f"); txt(1042,367,"<i>1H CSD</i>",14,"#2a2e39")
txt(958,249,"PDH",12,"#f7525f"); txt(1001,474,"PDL",12,"#f7525f")
txt(1375,723,"<i>Daily OB</i>",14,"#131722")
txt(1389,127,"1H",14,"#4a4e59"); txt(1389,146,"(22:39)",14,"#f23645")
txt(1580,127,"1D",14,"#4a4e59"); txt(1580,146,"(09:19:39)",14,"#f23645")
txt(1389,575,"(22:39)",14,"#f23645"); txt(1389,594,"1H",14,"#4a4e59")
txt(1654,172.5,"3167.72",12,"#4a4e59","left"); txt(1654,337,"3132.5",12,"#4a4e59","left")
txt(1654,543,"3088.5",12,"#4a4e59","left"); txt(1654,548,"3087.87",12,"#4a4e59","left")
for px,pyy,s in [(1634,151,"T"),(1615.5,239,"T"),(1625,262,"W"),(1607,339,"M"),(1597,529,"F"),(1588,657,"T"),
                 (1544,667,"T"),(1535,692,"W"),(1553,714,"F"),(1561,780,"M"),(1571,768,"T"),(1579,786,"W")]:
    txt(px,pyy,s,12,"#f7152d")
# price tags
for s,t,c in zip(tag_text,tag_y,tag_color):
    ann.append(dict(x=X(1774),y=Y(t),xref="paper",yref="paper",text=s,showarrow=False,xanchor="left",yanchor="middle",
                    font=dict(family=FONT,size=15,color="#ffffff"),bgcolor=c,width=81,height=22,borderpad=0,align="center"))
txt(1785,544,"3,088.47",15,"#ffffff","left")
txt(1785,563,"07:26",15,"#ffffff","left")

xr=[0,(R-L)/PX_PER_BAR]
yr=[py(B),py(T)]
fig.update_layout(width=W,height=H,autosize=False,margin=dict(l=L,r=W-R,t=T,b=H-B),
    paper_bgcolor="#131722",plot_bgcolor="rgba(0,0,0,0)",barmode="stack",bargap=0,showlegend=False,
    shapes=shapes,annotations=ann,hovermode=False,dragmode=False,
    xaxis=dict(range=xr,rangeslider=dict(visible=False),showgrid=False,zeroline=False,showline=False,tickmode="array",
               tickvals=time_tick_x,ticktext=time_tick_text,ticks="outside",ticklen=12,tickcolor="rgba(0,0,0,0)",
               tickfont=dict(family=FONT,size=15,color="#b2b5be"),tickangle=0),
    xaxis2=dict(range=[0,(R-L)*2.45],overlaying="x",visible=False,anchor="y"),
    xaxis3=dict(range=xr,overlaying="x",visible=False,anchor="y",rangeslider=dict(visible=False)),
    yaxis=dict(range=yr,side="right",showgrid=False,zeroline=False,showline=False,tickmode="array",tickvals=price_ticks,
               tickformat=",.2f",ticks="outside",ticklen=12,tickcolor="rgba(0,0,0,0)",
               tickfont=dict(family=FONT,size=15,color="#b2b5be")))
fig.write_html("out.html",config=dict(displayModeBar=False),
    post_script="document.body.style.margin='0';document.body.style.background='#131722';document.documentElement.style.overflow='hidden';")
